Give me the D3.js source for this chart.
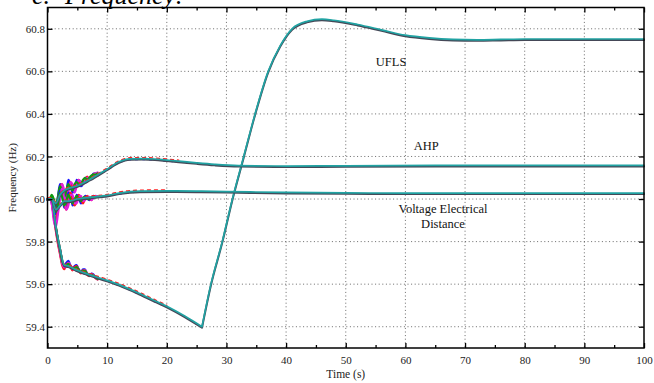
<!DOCTYPE html>
<html>
<head>
<meta charset="utf-8">
<script src="https://cdn.jsdelivr.net/npm/d3@7"></script>
<style>
  html, body { margin: 0; padding: 0; background: #fff; }
  svg { display: block; font-family: "Liberation Serif", "Times New Roman", "DejaVu Serif", serif; }
</style>
</head>
<body>
<div id="chart"></div>
<script>
/* ─── Data ─── */
const xTicks = [0, 10, 20, 30, 40, 50, 60, 70, 80, 90, 100];
const xMinorTicks = [5, 15, 25, 35, 45, 55, 65, 75, 85, 95];
const yTicks = [59.4, 59.6, 59.8, 60, 60.2, 60.4, 60.6, 60.8];

// main (steady) response of each scheme
const uflsT = [0, 0.7, 1.4, 2.1, 2.8, 3.5, 5, 7, 10, 12, 15, 18, 20, 23, 25.9, 27.4, 29.3, 31, 32.9, 34.8, 37, 39, 41, 43.5, 46, 48, 52, 56, 60, 64, 68, 72, 76, 80, 90, 100];
const uflsF = [60, 60, 59.87, 59.77, 59.69, 59.685, 59.665, 59.645, 59.618, 59.598, 59.562, 59.522, 59.496, 59.45, 59.40, 59.6, 59.8, 60.0, 60.2, 60.4, 60.6, 60.72, 60.8, 60.835, 60.845, 60.84, 60.82, 60.795, 60.77, 60.757, 60.75, 60.748, 60.75, 60.752, 60.752, 60.752];
const uflsMinT = 25.9; // load shedding instant, the curve turns sharply here

const ahpT = [0, 0.7, 1.4, 2.1, 2.8, 3.5, 4.9, 7.1, 9.9, 12, 13.8, 16, 18, 20, 22, 25, 28, 32, 40, 50, 70, 100];
const ahpF = [60, 60, 59.98, 60.02, 60.04, 60.05, 60.061, 60.092, 60.139, 60.175, 60.189, 60.19, 60.188, 60.183, 60.178, 60.17, 60.163, 60.157, 60.155, 60.156, 60.158, 60.158];

const vedT = [0, 0.7, 1.4, 2.1, 2.8, 3.5, 5, 7, 10, 12, 15.5, 20, 25, 30, 40, 50, 60, 80, 100];
const vedF = [60, 60, 59.95, 59.97, 59.99, 59.99, 60.0, 60.008, 60.017, 60.028, 60.037, 60.038, 60.037, 60.035, 60.031, 60.029, 60.028, 60.028, 60.028];

// early oscillations of the individual runs
const oscT = [0, 0.35, 0.7, 1.05, 1.4, 1.75, 2.1, 2.45, 2.8, 3.15, 3.5, 3.85, 4.2, 4.55, 4.9, 5.25, 5.6, 5.95, 6.3, 6.65, 7.0, 7.35, 7.7, 8.05, 8.4];
const runColors = ["#1414ff", "#ff1a1a", "#e020e0", "#109a10"];

const vedRuns = [
  [60, 60, 60, 59.95, 59.93, 59.98, 60.04, 60.02, 59.96, 59.97, 60.03, 60.02, 59.97, 59.98, 60.02, 60.01, 59.98, 59.99, 60.015, 60.01, 59.995, 60.0, 60.015, 60.012, 60.01],
  [60, 60, 59.99, 59.92, 59.9, 59.95, 60.02, 60.03, 59.98, 59.95, 59.99, 60.03, 60.0, 59.97, 59.99, 60.02, 60.0, 59.98, 60.0, 60.015, 60.0, 59.995, 60.01, 60.014, 60.01],
  [60, 60, 59.98, 59.9, 59.87, 59.93, 60.0, 60.05, 60.0, 59.95, 59.97, 60.02, 60.02, 59.98, 59.98, 60.01, 60.015, 59.99, 59.995, 60.01, 60.01, 59.995, 60.005, 60.015, 60.01],
  [60, 60, 60.01, 59.97, 59.94, 59.97, 60.03, 60.01, 59.97, 59.99, 60.02, 60.0, 59.98, 60.0, 60.015, 60.0, 59.99, 60.005, 60.01, 60.0, 60.0, 60.008, 60.01, 60.008, 60.01]
];

const ahpRuns = [
  [60, 60, 60.01, 59.98, 59.96, 60.01, 60.07, 60.05, 60.0, 60.03, 60.09, 60.07, 60.03, 60.05, 60.09, 60.08, 60.06, 60.07, 60.1, 60.1, 60.09, 60.1, 60.12, 60.12, 60.12],
  [60, 60, 59.99, 59.95, 59.93, 59.98, 60.05, 60.07, 60.02, 60.0, 60.05, 60.08, 60.05, 60.04, 60.07, 60.09, 60.07, 60.07, 60.09, 60.105, 60.095, 60.1, 60.115, 60.12, 60.12],
  [60, 60, 59.98, 59.93, 59.9, 59.95, 60.03, 60.07, 60.04, 59.99, 60.03, 60.08, 60.07, 60.03, 60.06, 60.09, 60.08, 60.07, 60.085, 60.1, 60.1, 60.095, 60.11, 60.12, 60.125],
  [60, 60, 60.02, 60.0, 59.97, 60.01, 60.06, 60.04, 60.01, 60.04, 60.07, 60.05, 60.04, 60.07, 60.08, 60.07, 60.07, 60.09, 60.1, 60.09, 60.1, 60.11, 60.115, 60.115, 60.12]
];

const uflsRuns = [
  [60, 60, 59.99, 59.93, 59.86, 59.8, 59.75, 59.7, 59.68, 59.7, 59.71, 59.685, 59.67, 59.685, 59.69, 59.665, 59.655, 59.67, 59.67, 59.645, 59.64, 59.65, 59.645, 59.63, 59.625],
  [60, 60, 59.99, 59.92, 59.85, 59.79, 59.74, 59.69, 59.67, 59.69, 59.7, 59.68, 59.665, 59.68, 59.685, 59.665, 59.65, 59.665, 59.665, 59.645, 59.638, 59.648, 59.642, 59.628, 59.622],
  [60, 60, 59.98, 59.92, 59.86, 59.8, 59.75, 59.7, 59.68, 59.68, 59.7, 59.69, 59.67, 59.67, 59.68, 59.67, 59.655, 59.66, 59.665, 59.65, 59.64, 59.645, 59.64, 59.63, 59.623],
  [60, 60, 60, 59.94, 59.87, 59.81, 59.76, 59.71, 59.69, 59.69, 59.695, 59.685, 59.672, 59.675, 59.68, 59.668, 59.656, 59.662, 59.662, 59.648, 59.64, 59.644, 59.64, 59.632, 59.624]
];

const labels = [
  { lines: ["UFLS"], t: 57.6, f: 60.625 },
  { lines: ["AHP"], t: 63.5, f: 60.23 },
  { lines: ["Voltage Electrical", "Distance"], t: 66.3, f: 59.934 }
];

/* ─── Layout ─── */
const width = 654, height = 383;
const m = { left: 47.5, right: 644, top: 7.5, bottom: 348 };
const serif = "'Liberation Serif', 'Times New Roman', 'DejaVu Serif', serif";

const svg = d3.select("#chart").append("svg")
  .attr("width", width)
  .attr("height", height);

const x = d3.scaleLinear().domain([0, 100]).range([m.left, m.right]);
const y = d3.scaleLinear().domain([59.3, 60.9]).range([m.bottom, m.top]);

/* ─── Title (cut off at the top, as in the source) ─── */
[["c.", 32], ["Frequency:", 65]].forEach(([s, px]) => {
  svg.append("text")
    .attr("x", px)
    .attr("y", 4)
    .style("font-family", serif)
    .style("font-style", "italic")
    .style("font-size", "26px")
    .attr("fill", "#000")
    .text(s);
});

/* ─── Grid ─── */
const grid = svg.append("g")
  .attr("stroke", "#444")
  .attr("stroke-width", 0.8)
  .attr("stroke-dasharray", "1,2.6");

grid.selectAll(".vg")
  .data(xTicks.filter(t => t > 0 && t < 100))
  .enter().append("line")
  .attr("x1", d => x(d)).attr("x2", d => x(d))
  .attr("y1", m.top).attr("y2", m.bottom);

grid.selectAll(".hg")
  .data(yTicks)
  .enter().append("line")
  .attr("x1", m.left).attr("x2", m.right)
  .attr("y1", d => y(d)).attr("y2", d => y(d));

/* ─── Curves ─── */
const line = d3.line()
  .x(d => x(d[0]))
  .y(d => y(d[1]))
  .curve(d3.curveMonotoneX);

const zip = (ts, fs) => ts.map((t, i) => [t, fs[i]]);

// UFLS is drawn as two smooth pieces joined at the shedding corner
const uflsPts = zip(uflsT, uflsF);
const uflsPath = line(uflsPts.filter(d => d[0] <= uflsMinT)) +
                 line(uflsPts.filter(d => d[0] >= uflsMinT));

const plot = svg.append("g")
  .attr("fill", "none")
  .attr("stroke-linejoin", "round")
  .attr("stroke-linecap", "round");

const trends = [
  { pts: uflsPts, d: uflsPath },
  { pts: zip(ahpT, ahpF), d: line(zip(ahpT, ahpF)) },
  { pts: zip(vedT, vedF), d: line(zip(vedT, vedF)) }
];
const runSets = [uflsRuns, ahpRuns, vedRuns];

// coloured runs underneath
runSets.forEach(runs => {
  runs.forEach((vals, i) => {
    plot.append("path")
      .attr("d", line(zip(oscT, vals)))
      .attr("stroke", runColors[i])
      .attr("stroke-width", 2.2);
  });
});

// slight spread of the runs along the slow part
trends.forEach(tr => {
  const early = line(tr.pts.filter(d => d[0] <= 22));
  plot.append("path")
    .attr("d", early)
    .attr("transform", "translate(0,-1)")
    .attr("stroke", "#ff2020")
    .attr("stroke-width", 1.4)
    .attr("stroke-dasharray", "3,4");
  plot.append("path")
    .attr("d", early)
    .attr("transform", "translate(0,1)")
    .attr("stroke", "#2020ff")
    .attr("stroke-width", 1.4)
    .attr("stroke-dasharray", "2,5");
});

trends.forEach(tr => {
  plot.append("path")
    .attr("d", tr.d)
    .attr("transform", "translate(0,1)")
    .attr("stroke", "#454857")
    .attr("stroke-width", 2);
  plot.append("path")
    .attr("d", tr.d)
    .attr("stroke", "#21a3a3")
    .attr("stroke-width", 1.7);
});

/* ─── Annotations ─── */
labels.forEach(lb => {
  const t = svg.append("text")
    .attr("text-anchor", "middle")
    .style("font-family", serif)
    .style("font-size", "12.5px")
    .attr("fill", "#111");
  lb.lines.forEach((s, i) => {
    t.append("tspan")
      .attr("x", x(lb.t))
      .attr("y", y(lb.f) + i * 15)
      .text(s);
  });
});

/* ─── Axes ─── */
const styleAxis = g => {
  g.attr("font-family", null);
  g.select(".domain").remove();
  g.selectAll(".tick line").attr("stroke", "#000").attr("stroke-width", 1.3);
  g.selectAll(".tick text")
    .attr("fill", "#222")
    .style("font-family", serif)
    .style("font-size", "11px");
};

svg.append("g")
  .attr("transform", `translate(0,${m.bottom})`)
  .call(d3.axisBottom(x).tickValues(xTicks).tickFormat(d3.format("d"))
    .tickSizeInner(-5).tickSizeOuter(0).tickPadding(8))
  .call(styleAxis);

svg.append("g")
  .attr("transform", `translate(0,${m.bottom})`)
  .call(d3.axisBottom(x).tickValues(xMinorTicks).tickFormat("")
    .tickSizeInner(-3).tickSizeOuter(0))
  .call(styleAxis);

svg.append("g")
  .attr("transform", `translate(0,${m.top})`)
  .call(d3.axisTop(x).tickValues(xTicks).tickFormat("")
    .tickSizeInner(-5).tickSizeOuter(0))
  .call(styleAxis);

svg.append("g")
  .attr("transform", `translate(0,${m.top})`)
  .call(d3.axisTop(x).tickValues(xMinorTicks).tickFormat("")
    .tickSizeInner(-3).tickSizeOuter(0))
  .call(styleAxis);

svg.append("g")
  .attr("transform", `translate(${m.left},0)`)
  .call(d3.axisLeft(y).tickValues(yTicks).tickFormat(d => d3.format("~g")(d))
    .tickSizeInner(-5).tickSizeOuter(0).tickPadding(2.5))
  .call(styleAxis);

svg.append("g")
  .attr("transform", `translate(${m.right},0)`)
  .call(d3.axisRight(y).tickValues(yTicks).tickFormat("")
    .tickSizeInner(-5).tickSizeOuter(0))
  .call(styleAxis);

// frame
svg.append("rect")
  .attr("x", m.left).attr("y", m.top)
  .attr("width", m.right - m.left).attr("height", m.bottom - m.top)
  .attr("fill", "none")
  .attr("stroke", "#000")
  .attr("stroke-width", 1.5);

/* ─── Axis titles ─── */
svg.append("text")
  .attr("x", (m.left + m.right) / 2)
  .attr("y", 378)
  .attr("text-anchor", "middle")
  .style("font-family", serif)
  .style("font-size", "11.5px")
  .attr("fill", "#222")
  .text("Time (s)");

svg.append("text")
  .attr("transform", `translate(16,${(m.top + m.bottom) / 2}) rotate(-90)`)
  .attr("text-anchor", "middle")
  .style("font-family", serif)
  .style("font-size", "11px")
  .attr("fill", "#222")
  .text("Frequency (Hz)");
</script>
</body>
</html>
